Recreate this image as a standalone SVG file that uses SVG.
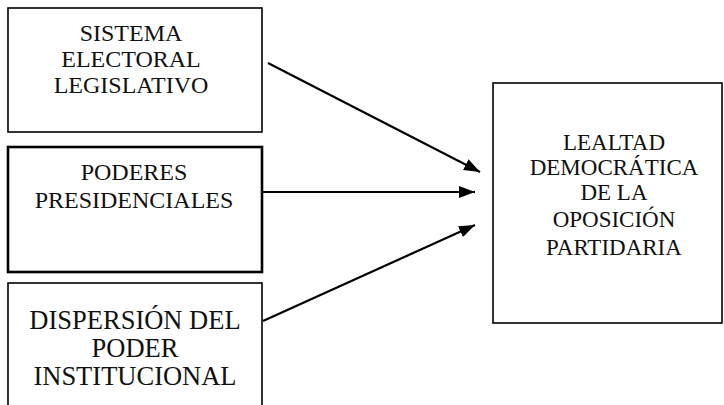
<svg xmlns="http://www.w3.org/2000/svg" width="724" height="405" viewBox="0 0 724 405">
<defs>
<style>
.box{fill:#fff;stroke:#000}
.t{font-family:"Liberation Serif","Times New Roman",serif;font-size:23px;fill:#111;text-anchor:middle}
.t24{font-size:24px}
.t26{font-size:26.5px}
.c{stroke:#000;stroke-width:2.2;fill:none}
</style>
<marker id="ah" viewBox="0 0 16 12" refX="16" refY="6" markerWidth="16" markerHeight="12" markerUnits="userSpaceOnUse" orient="auto">
<path d="M0,0 L16,6 L0,12 Z" fill="#000"/>
</marker>
</defs>
<rect width="724" height="405" fill="#fff"/>
<g id="n1">
<rect class="box" x="8" y="8" width="254" height="124" stroke-width="1.6"/>
<text class="t t24" x="131" y="41">SISTEMA</text>
<text class="t t24" x="131" y="67">ELECTORAL</text>
<text class="t t24" x="131" y="93">LEGISLATIVO</text>
</g>
<g id="n2">
<rect class="box" x="8" y="147" width="254" height="125" stroke-width="2.6"/>
<text class="t t24" x="134" y="180">PODERES</text>
<text class="t t24" x="134" y="208">PRESIDENCIALES</text>
</g>
<g id="n3">
<rect class="box" x="8" y="283" width="254" height="130" stroke-width="1.6"/>
<text class="t t26" x="135" y="329">DISPERSIÓN DEL</text>
<text class="t t26" x="135" y="357">PODER</text>
<text class="t t26" x="135" y="385">INSTITUCIONAL</text>
</g>
<g id="n4">
<rect class="box" x="493" y="83" width="229" height="240" stroke-width="1.6"/>
<text class="t" x="614" y="150">LEALTAD</text>
<text class="t" x="614" y="175">DEMOCRÁTICA</text>
<text class="t" x="614" y="200">DE LA</text>
<text class="t" x="614" y="227">OPOSICIÓN</text>
<text class="t" x="614" y="255">PARTIDARIA</text>
</g>
<g id="connectors">
<line class="c" x1="268" y1="63" x2="480" y2="172" marker-end="url(#ah)"/>
<line class="c" x1="262" y1="192" x2="475" y2="192" marker-end="url(#ah)"/>
<line class="c" x1="263" y1="321" x2="475" y2="225" marker-end="url(#ah)"/>
</g>
</svg>
